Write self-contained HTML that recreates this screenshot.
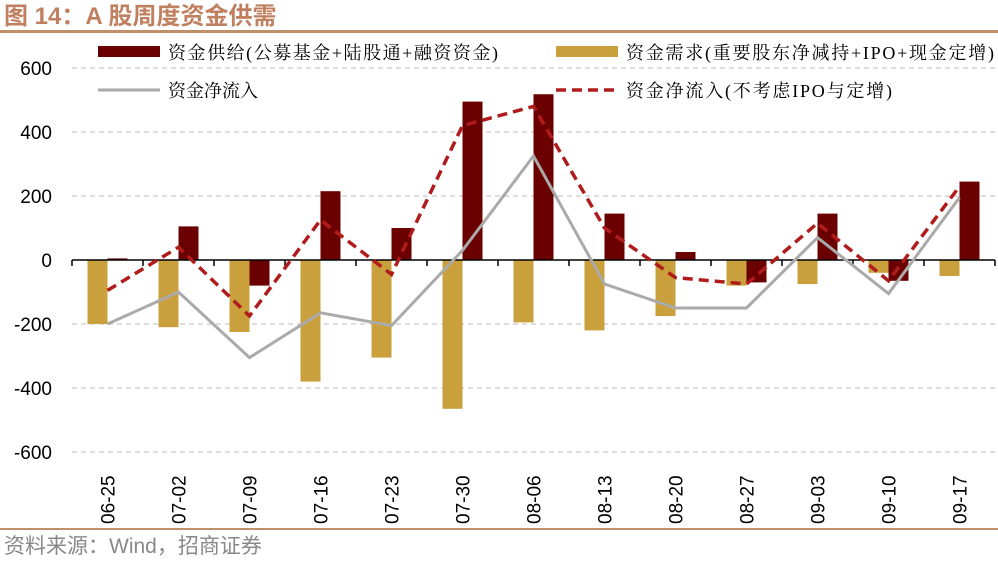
<!DOCTYPE html>
<html><head><meta charset="utf-8"><style>
body{margin:0;background:#fff;}
svg text{font-family:"Liberation Sans","Noto Sans CJK SC",sans-serif;}
.sf{font-family:"Liberation Serif","Noto Serif CJK SC",serif !important;}
</style></head><body>
<svg width="998" height="558" viewBox="0 0 998 558" xmlns="http://www.w3.org/2000/svg">
<text x="4" y="24" font-size="24" font-weight="bold" fill="#c08060">图 14：A 股周度资金供需</text>
<rect x="0" y="30" width="998" height="3" fill="#c0906a"/>
<rect x="0" y="528" width="998" height="2" fill="#c0906a"/>
<text x="4" y="553" font-size="21" fill="#888">资料来源：Wind，招商证券</text>
<g stroke="#bbb" stroke-dasharray="5,4" stroke-width="1">
<line x1="72" x2="995" y1="68" y2="68"/><line x1="72" x2="995" y1="132" y2="132"/><line x1="72" x2="995" y1="196" y2="196"/>
<line x1="72" x2="995" y1="324" y2="324"/><line x1="72" x2="995" y1="388" y2="388"/><line x1="72" x2="995" y1="452" y2="452"/>
</g>
<g font-size="19" fill="#000" text-anchor="end">
<text x="52" y="75">600</text><text x="52" y="139">400</text><text x="52" y="203">200</text><text x="52" y="267">0</text>
<text x="52" y="331">-200</text><text x="52" y="395">-400</text><text x="52" y="459">-600</text>
</g>
<g id="bars"></g>
<line x1="72" x2="995" y1="260" y2="260" stroke="#000" stroke-width="1.5"/>
<g id="ticks"></g>
<polyline id="gl" fill="none" stroke="#aaa" stroke-width="3"/>
<polyline id="rl" fill="none" stroke="#b01c1c" stroke-width="3.5" stroke-dasharray="10,6"/>
<g id="xl" font-size="19"></g>
<rect x="98" y="46" width="62" height="11" fill="#6b0000"/>
<text class="sf" x="168" y="59" font-size="18" textLength="330">资金供给(公募基金+陆股通+融资资金)</text>
<rect x="556" y="46" width="62" height="11" fill="#c9a03c"/>
<text class="sf" x="626" y="59" font-size="18" textLength="368">资金需求(重要股东净减持+IPO+现金定增)</text>
<line x1="98" x2="160" y1="90" y2="90" stroke="#aaa" stroke-width="3"/>
<text class="sf" x="168" y="97" font-size="18">资金净流入</text>
<line x1="556" x2="618" y1="90" y2="90" stroke="#b01c1c" stroke-width="3.5" stroke-dasharray="10,6"/>
<text class="sf" x="626" y="97" font-size="18" textLength="266">资金净流入(不考虑IPO与定增)</text>
</svg>
<script>
var L=["06-25","07-02","07-09","07-16","07-23","07-30","08-06","08-13","08-20","08-27","09-03","09-10","09-17"];
var S=[5,105,-80,215,100,495,518,145,25,-70,145,-65,245];
var D=[-200,-210,-225,-380,-305,-465,-195,-220,-175,-80,-75,-40,-50];
var G=[-200,-100,-305,-165,-205,30,325,-75,-150,-150,70,-105,195];
var R=[-95,40,-175,125,-45,420,480,100,-55,-75,115,-65,230];
function y(v){return 260-v*0.32;}
var ns="http://www.w3.org/2000/svg",b=document.getElementById("bars"),t=document.getElementById("ticks"),xl=document.getElementById("xl");
var gp=[],rp=[];
function el(n,a,p){var e=document.createElementNS(ns,n);for(var k in a)e.setAttribute(k,a[k]);p.appendChild(e);return e;}
for(var i=0;i<13;i++){var c=107.5+i*71;
el("rect",{x:c-20,y:Math.min(y(0),y(D[i])),width:20,height:Math.abs(D[i]*0.32),fill:"#c9a03c"},b);
el("rect",{x:c,y:Math.min(y(0),y(S[i])),width:20,height:Math.abs(S[i]*0.32),fill:"#6b0000"},b);
gp.push(c+","+y(G[i]));rp.push(c+","+y(R[i]));
var tx=el("text",{transform:"translate("+(c+7)+",524) rotate(-90)"},xl);tx.textContent=L[i];}
for(var i=0;i<=13;i++){var x=72+i*71;el("line",{x1:x,x2:x,y1:260,y2:266,stroke:"#000","stroke-width":1.5},t);}
document.getElementById("gl").setAttribute("points",gp.join(" "));
document.getElementById("rl").setAttribute("points",rp.join(" "));
</script>
</body></html>
